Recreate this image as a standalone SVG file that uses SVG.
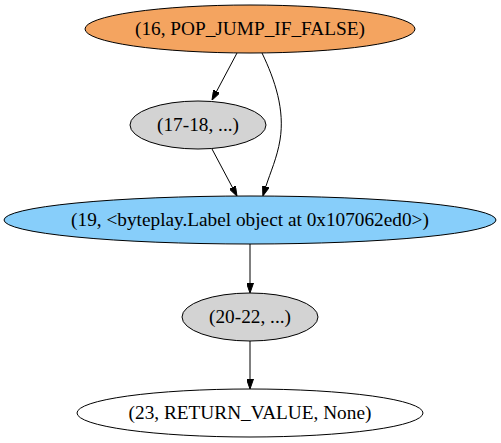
<svg xmlns="http://www.w3.org/2000/svg" width="501" height="443" viewBox="0 0 501 443">
<defs>
<marker id="arr" viewBox="0 0 10 7" refX="0" refY="3.5" markerWidth="10" markerHeight="7" markerUnits="userSpaceOnUse" orient="auto">
<path d="M0,0 L10,3.5 L0,7 z" fill="#000" stroke="#000" stroke-width="1"/>
</marker>
<style>
.n ellipse{stroke:#000;stroke-width:1}
.n text{font-family:"Liberation Serif","Times New Roman",serif;font-size:19.3px;text-anchor:middle;fill:#000}
#edges path{fill:none;stroke:#000;stroke-width:1;marker-end:url(#arr)}
</style>
</defs>
<rect width="501" height="443" fill="#fff"/>
<g id="edges">
<path d="M237,53 L216.7,91.2"/>
<path d="M262,53 C275,80 285,110 280,140 C277,158 270.5,172 265.9,186.4"/>
<path d="M212,149 L232.3,187.2"/>
<path d="M250,244 L250,283"/>
<path d="M250,341 L250,379"/>
</g>
<g id="n16" class="n"><ellipse cx="250" cy="29" rx="165" ry="24" fill="#f4a460"/><text x="250" y="35">(16, POP_JUMP_IF_FALSE)</text></g>
<g id="n17" class="n"><ellipse cx="198" cy="125" rx="68" ry="24" fill="#d3d3d3"/><text x="198" y="131">(17-18, ...)</text></g>
<g id="n19" class="n"><ellipse cx="250" cy="220" rx="246" ry="24" fill="#87cefa"/><text x="250" y="226">(19, &lt;byteplay.Label object at 0x107062ed0&gt;)</text></g>
<g id="n20" class="n"><ellipse cx="250" cy="317" rx="68" ry="24" fill="#d3d3d3"/><text x="250" y="323">(20-22, ...)</text></g>
<g id="n23" class="n"><ellipse cx="250" cy="413" rx="173" ry="24" fill="#fff"/><text x="250" y="419">(23, RETURN_VALUE, None)</text></g>
</svg>
